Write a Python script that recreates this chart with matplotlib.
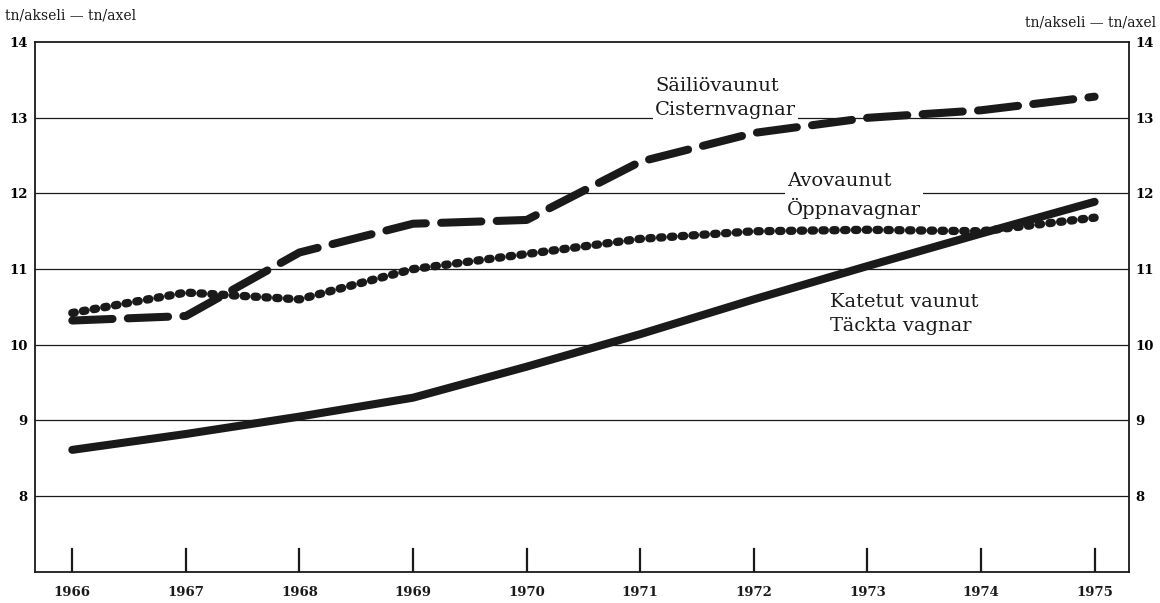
import matplotlib.pyplot as plt
import numpy as np


years = [1966, 1967, 1968, 1969, 1970, 1971, 1972, 1973, 1974, 1975]

# tn/akseli by wagon type
cisternValues = [10.32, 10.38, 11.22, 11.6, 11.65, 12.42, 12.8, 13.0, 13.1, 13.28]
openValues = [10.42, 10.69, 10.6, 11.0, 11.2, 11.4, 11.5, 11.52, 11.5, 11.68]
coveredValues = [8.61, 8.82, 9.05, 9.3, 9.71, 10.14, 10.6, 11.04, 11.47, 11.89]

yTicks = [8, 9, 10, 11, 12, 13, 14]
unitLabel = "tn/akseli \u2014 tn/axel"

serif = ["DejaVu Serif"]
ink = "#1a1a1a"

fig = plt.figure(figsize = (11.6, 6.03), dpi = 100, facecolor = "white")
ax = fig.add_axes([0.030, 0.052, 0.943, 0.878])

ax.set_xlim(1965.67, 1975.3)
ax.set_ylim(7, 14)

# horizontal rules
for y in yTicks[:-1]:
    ax.axhline(y, color = ink, linewidth = 0.9, zorder = 1)

# year tick marks rising from the base line
for yr in years:
    ax.plot([yr, yr], [7, 7.3], color = ink, linewidth = 1.6, zorder = 2)

ax.plot(years, coveredValues, color = ink, linewidth = 5.8, solid_capstyle = "round", zorder = 3)
ax.plot(years, openValues, color = ink, linewidth = 6.0, linestyle = (0, (0.3, 1.0)),
        dash_capstyle = "round", zorder = 3)
ax.plot(years, cisternValues, color = ink, linewidth = 5.8, linestyle = (0, (5.0, 1.9)),
        dash_capstyle = "round", zorder = 3)

# series labels
labelStyle = dict(fontsize = 14, family = serif, color = ink, ha = "left", va = "center", zorder = 4,
                  linespacing = 1.45, bbox = dict(facecolor = "white", edgecolor = "none", pad = 1.5))
ax.text(1971.13, 13.26, "Säiliövaunut\nCisternvagnar", **labelStyle)
ax.text(1972.29, 11.97, "Avovaunut\nÖppnavagnar", **labelStyle)
ax.text(1972.67, 10.41, "Katetut vaunut\nTäckta vagnar", **labelStyle)

ax.set_xticks([])
ax.set_yticks(yTicks)
ax.set_yticklabels([str(v) for v in yTicks], fontsize = 9.5, family = serif, fontweight = "bold")
ax.tick_params(axis = "y", length = 0, pad = 5, labelleft = True, labelright = True)

for yr in years:
    ax.text(yr, 6.72, str(yr), ha = "center", va = "center", fontsize = 9.5, family = serif,
            fontweight = "bold", color = ink)

for spine in ax.spines.values():
    spine.set_linewidth(1.3)
    spine.set_color(ink)

fig.text(0.004, 0.975, unitLabel, ha = "left", va = "center", fontsize = 10, family = serif, color = ink)
fig.text(0.997, 0.963, unitLabel, ha = "right", va = "center", fontsize = 10, family = serif, color = ink)

fig.savefig("out.png", dpi = 100, facecolor = "white")
